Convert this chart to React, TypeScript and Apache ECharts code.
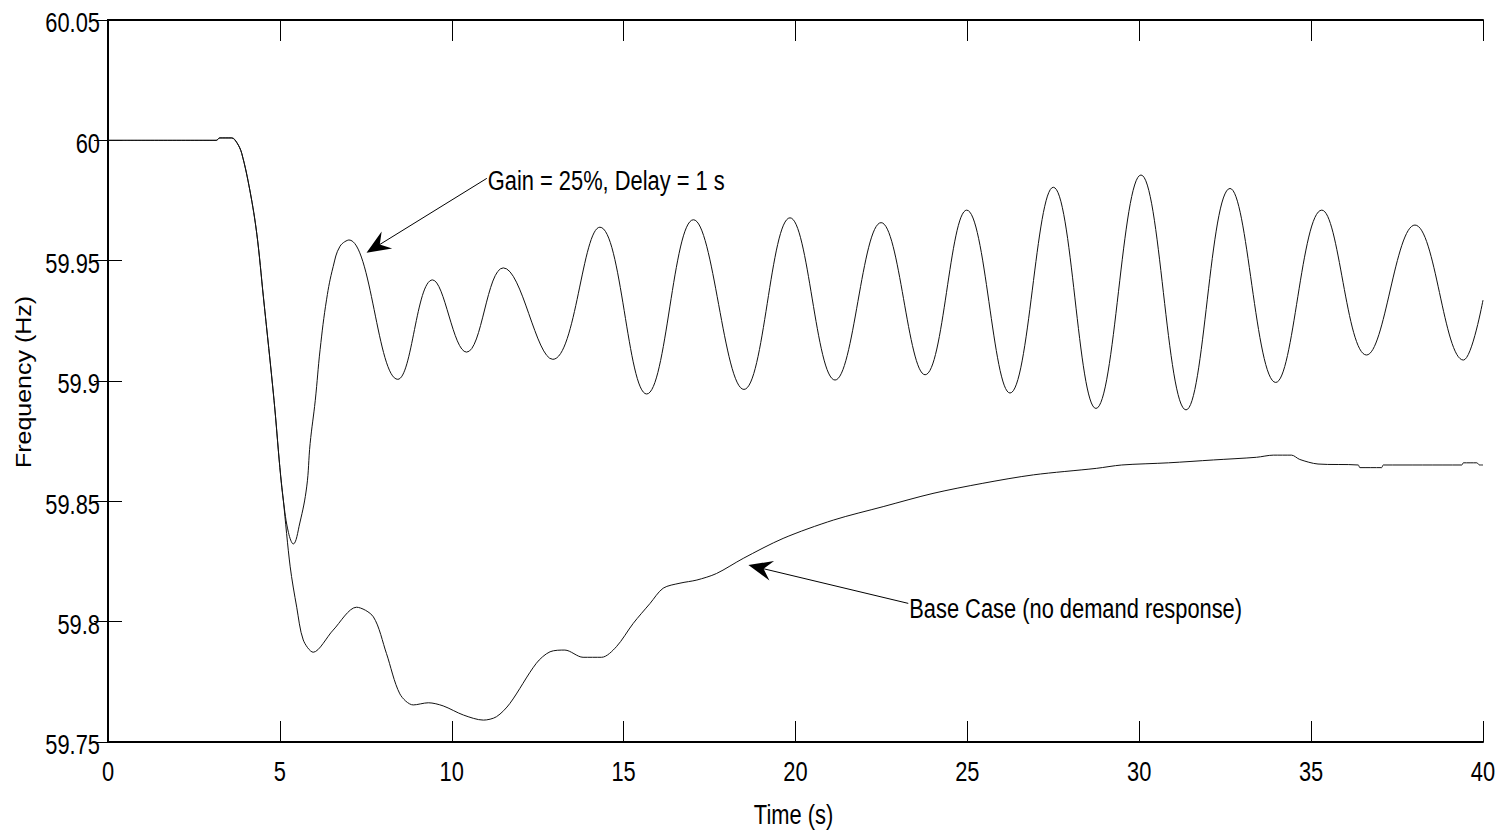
import React, { useEffect, useRef } from "react";
import * as echarts from "echarts";

// ---- Data ----
const gainTime = [
  0, 3.15, 3.25, 3.6, 3.75, 3.89, 4.13, 4.33, 4.52, 4.83, 5.0, 5.1, 5.25, 5.39, 5.58, 5.78, 5.88, 6.03,
  6.17, 6.36, 6.55, 6.75, 7.01, 8.43, 9.44, 10.43, 11.5, 12.94, 14.31, 15.67, 17.03, 18.5, 19.84, 21.15,
  22.49, 23.77, 24.98, 26.24, 27.5, 28.74, 30.05, 31.36, 32.64, 33.97, 35.31, 36.61, 38.02, 39.43, 40,
];
const gainFreq = [
  60, 60, 60.001, 60.001, 59.999, 59.9946, 59.979, 59.961, 59.935, 59.892, 59.864, 59.8505, 59.837,
  59.8323, 59.841, 59.856, 59.874, 59.892, 59.913, 59.934, 59.9475, 59.956, 59.9586, 59.9007, 59.942,
  59.912, 59.947, 59.909, 59.9639, 59.8946, 59.967, 59.8965, 59.9678, 59.9004, 59.9658, 59.9026, 59.971,
  59.895, 59.9805, 59.8886, 59.9856, 59.888, 59.98, 59.8994, 59.971, 59.9108, 59.9648, 59.9087, 59.9336,
];

const baseTime = [
  0, 3.15, 3.25, 3.6, 3.75, 3.89, 4.13, 4.33, 4.52, 4.83, 5.0, 5.1, 5.3, 5.49, 5.68, 5.97, 6.55, 7.23,
  7.72, 8.1, 8.49, 8.88, 9.32, 9.75, 10.34, 10.92, 11.3, 11.69, 12.46, 12.86, 13.29, 13.82, 14.36,
  14.79, 15.28, 15.77, 16.15, 16.64, 17.13, 17.7, 18.48, 19.64, 21.1, 22.55, 24.0, 25.45, 26.92, 28.75,
  29.49, 30.85, 32.16, 33.41, 33.9, 34.43, 34.67, 35.2, 36.37, 36.42, 37.05, 37.1, 39.38, 39.43, 39.82,
  39.9, 40,
];
const baseFreq = [
  60, 60, 60.001, 60.001, 59.999, 59.9946, 59.979, 59.961, 59.935, 59.892, 59.864, 59.8505, 59.8228,
  59.806, 59.7924, 59.7873, 59.7965, 59.806, 59.802, 59.7868, 59.77, 59.7654, 59.7663, 59.765, 59.7612,
  59.7591, 59.7605, 59.766, 59.7827, 59.7875, 59.7882, 59.7852, 59.7852, 59.7896, 59.7993, 59.8076,
  59.8139, 59.816, 59.8173, 59.82, 59.8263, 59.8346, 59.8422, 59.8478, 59.8533, 59.8575, 59.861,
  59.8637, 59.8651, 59.866, 59.8672, 59.8683, 59.8692, 59.8692, 59.8674, 59.8655, 59.8651, 59.864,
  59.864, 59.8651, 59.8651, 59.866, 59.866, 59.8651, 59.8651,
];

const xTickLabels = [0, 5, 10, 15, 20, 25, 30, 35, 40];
const yTickLabels = [59.75, 59.8, 59.85, 59.9, 59.95, 60, 60.05];
const xTitle = "Time (s)";
const yTitle = "Frequency (Hz)";

// annotations: [tailT, tailF, tipT, tipF, label]
const annotations: [number, number, number, number, string][] = [
  [11.02, 59.9842, 7.52, 59.9533, "Gain = 25%, Delay = 1 s"],
  [23.28, 59.8076, 18.63, 59.8235, "Base Case (no demand response)"],
];

const X_MIN = 0, X_MAX = 40, X_STEP = 5;
const Y_MIN = 59.75, Y_MAX = 60.05, Y_STEP = 0.05;

const FONT = "'Liberation Sans', Arial, sans-serif";
const SQUEEZE = 0.81;

const zip = (a: number[], b: number[]) => a.map((v, i) => [v, b[i]]);
const fmt = (v: number) => String(parseFloat(v.toFixed(2)));

export default function App() {
  const ref = useRef<HTMLDivElement>(null);
  useEffect(() => {
    document.body.style.margin = "0";
    const chart = echarts.init(ref.current!, undefined, { renderer: "svg" });
    const xTick = { show: true, inside: true, length: 21, lineStyle: { color: "#000", width: 1 } };
    const yTick = { show: true, inside: true, length: 14, lineStyle: { color: "#000", width: 1 } };
    const line = { show: true, lineStyle: { color: "#000", width: 2 } };
    chart.setOption({
      animation: false,
      backgroundColor: "#fff",
      grid: { left: 108, right: 18, top: 20, bottom: 89, containLabel: false },
      xAxis: [0, 1].map((i) => ({
        type: "value", min: X_MIN, max: X_MAX, interval: X_STEP, position: i === 0 ? "bottom" : "top",
        axisLine: line, axisTick: xTick, splitLine: { show: false }, axisLabel: { show: false },
      })),
      yAxis: [0, 1].map((i) => ({
        type: "value", min: Y_MIN, max: Y_MAX, interval: Y_STEP, position: i === 0 ? "left" : "right",
        axisLine: line, axisTick: yTick, splitLine: { show: false }, axisLabel: { show: false },
      })),
      series: [
        {
          type: "line", name: "Gain", data: zip(gainTime, gainFreq), showSymbol: false,
          smooth: 0.4,
          lineStyle: { color: "#111", width: 1 }, xAxisIndex: 0, yAxisIndex: 0,
        },
        {
          type: "line", name: "Base", data: zip(baseTime, baseFreq), showSymbol: false,
          smooth: 0.3,
          lineStyle: { color: "#111", width: 1 }, xAxisIndex: 0, yAxisIndex: 0,
        },
      ],
    });

    const px = (t: number, f: number) => chart.convertToPixel({ gridIndex: 0 }, [t, f]) as number[];
    const graphics: any[] = [];
    const text = (x: number, y: number, s: string, align: string, extra: any = {}) => ({
      type: "text", x, y, scaleX: SQUEEZE, ...extra,
      style: { text: s, fill: "#000", font: `27px ${FONT}`, textAlign: align, textVerticalAlign: "middle" },
    });

    yTickLabels.forEach((v) => {
      const p = px(X_MIN, v);
      graphics.push(text(p[0] - 8, p[1] + 3, fmt(v), "right"));
    });
    xTickLabels.forEach((v) => {
      const p = px(v, Y_MIN);
      graphics.push(text(p[0], p[1] + 30, fmt(v), "center"));
    });
    const bl = px(X_MIN, Y_MIN), tr = px(X_MAX, Y_MAX);
    graphics.push(text((bl[0] + tr[0]) / 2 - 2, bl[1] + 73, xTitle, "center"));
    graphics.push({
      type: "text", x: 24, y: (bl[1] + tr[1]) / 2 + 1, rotation: Math.PI / 2, scaleX: 1, scaleY: 0.85,
      style: { text: yTitle, fill: "#000", font: `25px ${FONT}`, textAlign: "center", textVerticalAlign: "middle" },
    });

    annotations.forEach(([t0, f0, t1, f1, label], k) => {
      const tail = px(t0, f0);
      const tip = px(t1, f1);
      const dx = tail[0] - tip[0], dy = tail[1] - tip[1];
      const len = Math.hypot(dx, dy);
      const ux = dx / len, uy = dy / len;
      const nx = -uy, ny = ux;
      const L = 24, W = 10;
      const bx = tip[0] + ux * L, by = tip[1] + uy * L;
      graphics.push({
        type: "line",
        shape: { x1: tail[0], y1: tail[1], x2: tip[0] + ux * L * 0.6, y2: tip[1] + uy * L * 0.6 },
        style: { stroke: "#000", lineWidth: 1 },
      });
      graphics.push({
        type: "polygon",
        shape: {
          points: [
            [tip[0], tip[1]],
            [bx + nx * W, by + ny * W],
            [tip[0] + ux * L * 0.65, tip[1] + uy * L * 0.65],
            [bx - nx * W, by - ny * W],
          ],
        },
        style: { fill: "#000" },
      });
      graphics.push(text(tail[0] + 1, tail[1] + (k === 0 ? 2 : 5), label, "left"));
    });
    chart.setOption({ graphic: graphics });

    return () => chart.dispose();
  }, []);
  return <div ref={ref} style={{ position: "absolute", left: 0, top: 0, width: 1501, height: 831 }} />;
}
